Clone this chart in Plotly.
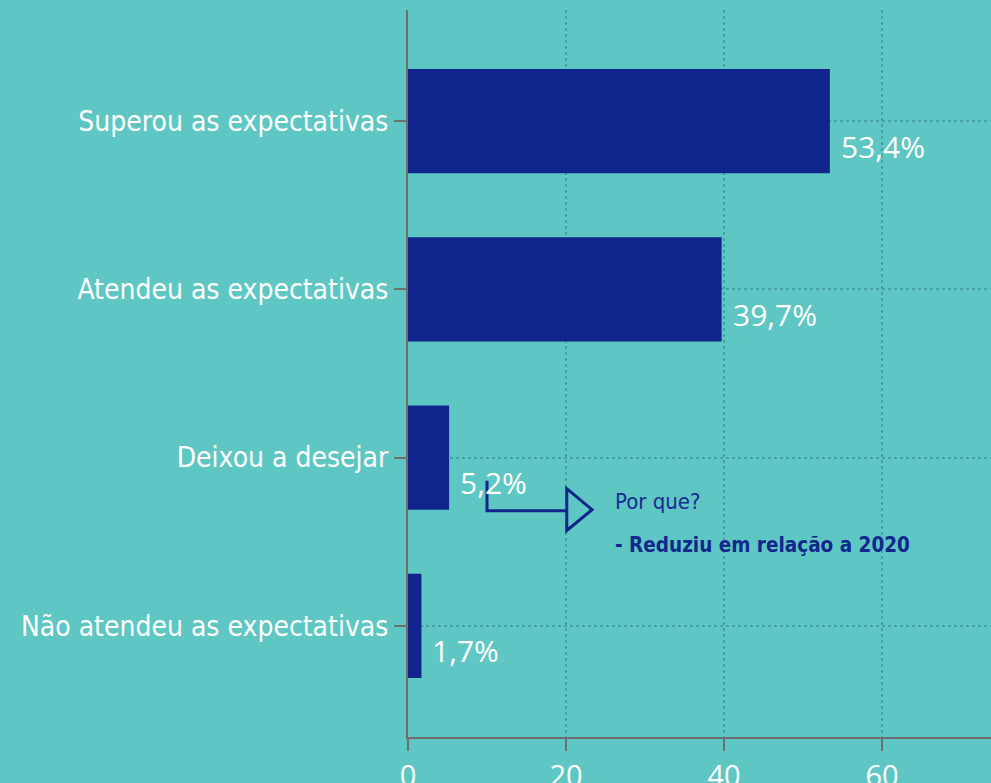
import plotly.graph_objects as go

categories = ["Superou as expectativas", "Atendeu as expectativas", "Deixou a desejar", "Não atendeu as expectativas"]
values = [53.4, 39.7, 5.2, 1.7]
value_labels = ["53,4%", "39,7%", "5,2%", "1,7%"]
x_ticks = [0, 20, 40, 60]

BG = "#5ec6c3"
BAR = "#10258c"
GRID = "#46a3a2"
AXIS = "#6e6e6e"
COND = "Liberation Sans Narrow, DejaVu Sans Condensed, sans-serif"
NUMF = "Open Sans, Lato, sans-serif"

fig = go.Figure()
fig.add_trace(go.Bar(
    x=values, y=categories, orientation="h",
    marker=dict(color=BAR, line=dict(width=0)),
    width=0.62, hoverinfo="skip",
))

for v, c, t in zip(values, categories, value_labels):
    fig.add_annotation(x=v, y=c, text=t, showarrow=False, xanchor="left", yanchor="middle",
                       xshift=9, yshift=-25, font=dict(family=NUMF, size=30, color="white"))

# callout arrow
fig.add_shape(type="path", xref="x", yref="y",
              path="M 10,2.137 L 10,2.315 L 20.1,2.315",
              line=dict(color=BAR, width=3))
fig.add_shape(type="path", xref="x", yref="y",
              path="M 20.1,2.184 L 23.3,2.309 L 20.1,2.433 Z",
              line=dict(color=BAR, width=3), fillcolor="rgba(0,0,0,0)")
fig.add_annotation(x=26.0, y=2.26, xref="x", yref="y", text="Por que?", showarrow=False,
                   xanchor="left", yanchor="middle",
                   font=dict(family=COND, size=22, color="#1a2d90"))
fig.add_annotation(x=26.0, y=2.52, xref="x", yref="y", text="<b>- Reduziu em relação a 2020</b>", showarrow=False,
                   xanchor="left", yanchor="middle",
                   font=dict(family=COND, size=20.5, color="#12288c"))

fig.update_layout(
    width=991, height=783,
    paper_bgcolor=BG, plot_bgcolor=BG,
    margin=dict(l=408, r=0, t=10, b=46),
    showlegend=False,
    xaxis=dict(range=[0, 73.8], tickvals=x_ticks, showgrid=True, gridcolor=GRID, griddash="dot", gridwidth=1.5,
               zeroline=False, showline=True, linecolor=AXIS, linewidth=2, automargin=False,
               ticks="outside", ticklen=12, tickwidth=2, tickcolor=AXIS,
               tickfont=dict(family=NUMF, size=29, color="white"), fixedrange=True),
    yaxis=dict(categoryorder="array", categoryarray=categories, range=[3.66, -0.66],
               showgrid=True, gridcolor=GRID, griddash="dot", gridwidth=1.5,
               zeroline=False, showline=True, linecolor=AXIS, linewidth=2, automargin=False,
               ticks="outside", ticklen=12, tickwidth=2, tickcolor=AXIS,
               tickfont=dict(family=COND, size=28, color="white"), fixedrange=True),
)

fig.write_html("out.html", config={"displayModeBar": False},
               post_script="document.body.style.margin='0';document.body.style.overflow='hidden';")
